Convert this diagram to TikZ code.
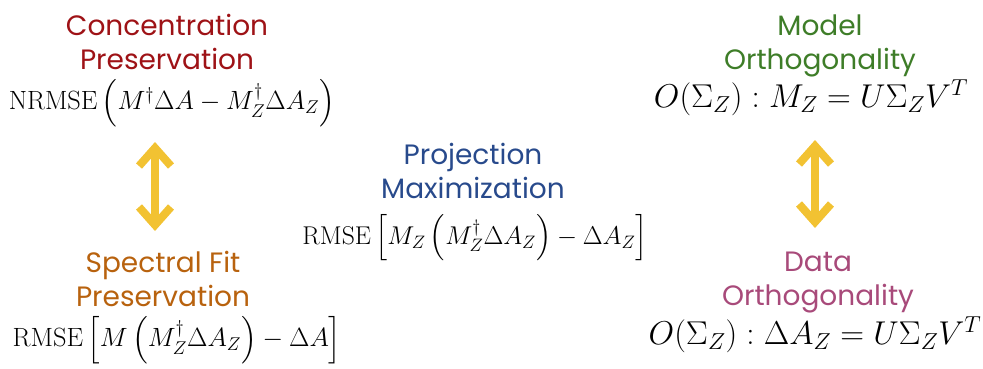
\RequirePackage{fix-cm}
\documentclass[tikz,border=0pt]{standalone}
\usepackage{amsmath,amssymb}
\usepackage{fontspec}
\usepackage{xcolor}
\usepackage{tikz}
\usetikzlibrary{arrows.meta,calc}
\newfontfamily\headfont{Poppins}
\definecolor{RedConc}{RGB}{158,18,22}
\definecolor{BlueProj}{RGB}{40,74,140}
\definecolor{GreenModel}{RGB}{62,125,40}
\definecolor{OrangeSpec}{RGB}{184,98,14}
\definecolor{PinkData}{RGB}{168,74,122}
\definecolor{YellowArrow}{RGB}{242,194,50}
\begin{document}
\begin{tikzpicture}[x=1pt,y=-1pt,
  head/.style={font=\headfont\fontsize{28}{34}\selectfont,align=center,inner sep=0pt},
  eq/.style={font=\fontsize{26.4}{30}\selectfont,inner sep=0pt},
  bigeq/.style={font=\fontsize{33}{38}\selectfont,inner sep=0pt},
  updown/.style={YellowArrow,line width=8pt,
    {Straight Barb[length=18pt,width=32pt]}-{Straight Barb[length=18pt,width=32pt]}}]
  \useasboundingbox (0,0) rectangle (983,369);
  \node[head,RedConc] (conc) at (167,42) {Concentration\\Preservation};
  \node[eq] (conc-eq) at (172,103) {$\mathrm{NRMSE}\left(M^{\dagger}\Delta A-M_Z^{\dagger}\Delta A_Z\right)$};
  \node[head,OrangeSpec] (spec) at (163,279) {Spectral Fit\\Preservation};
  \node[eq] (spec-eq) at (177,340) {$\mathrm{RMSE}\left[M\left(M_Z^{\dagger}\Delta A_Z\right)-\Delta A\right]$};
  \node[head,BlueProj] (proj) at (473,171) {Projection\\Maximization};
  \node[eq,font=\fontsize{25.7}{30}\selectfont] (proj-eq) at (475,238) {$\mathrm{RMSE}\left[M_Z\left(M_Z^{\dagger}\Delta A_Z\right)-\Delta A_Z\right]$};
  \node[head,GreenModel] (model) at (820,46) {Model\\Orthogonality};
  \node[bigeq] (model-eq) at (811,98) {$O(\Sigma_Z):M_Z=U\Sigma_Z V^T$};
  \node[head,PinkData] (data) at (818,283) {Data\\Orthogonality};
  \node[bigeq] (data-eq) at (815,335) {$O(\Sigma_Z):\Delta A_Z=U\Sigma_Z V^T$};
  \coordinate (l-top) at (155,142);
  \coordinate (l-bot) at (155,231);
  \coordinate (r-top) at (815,140);
  \coordinate (r-bot) at (815,228);
  \draw[updown] (l-top) -- (l-bot);
  \draw[updown] (r-top) -- (r-bot);
\end{tikzpicture}
\end{document}
